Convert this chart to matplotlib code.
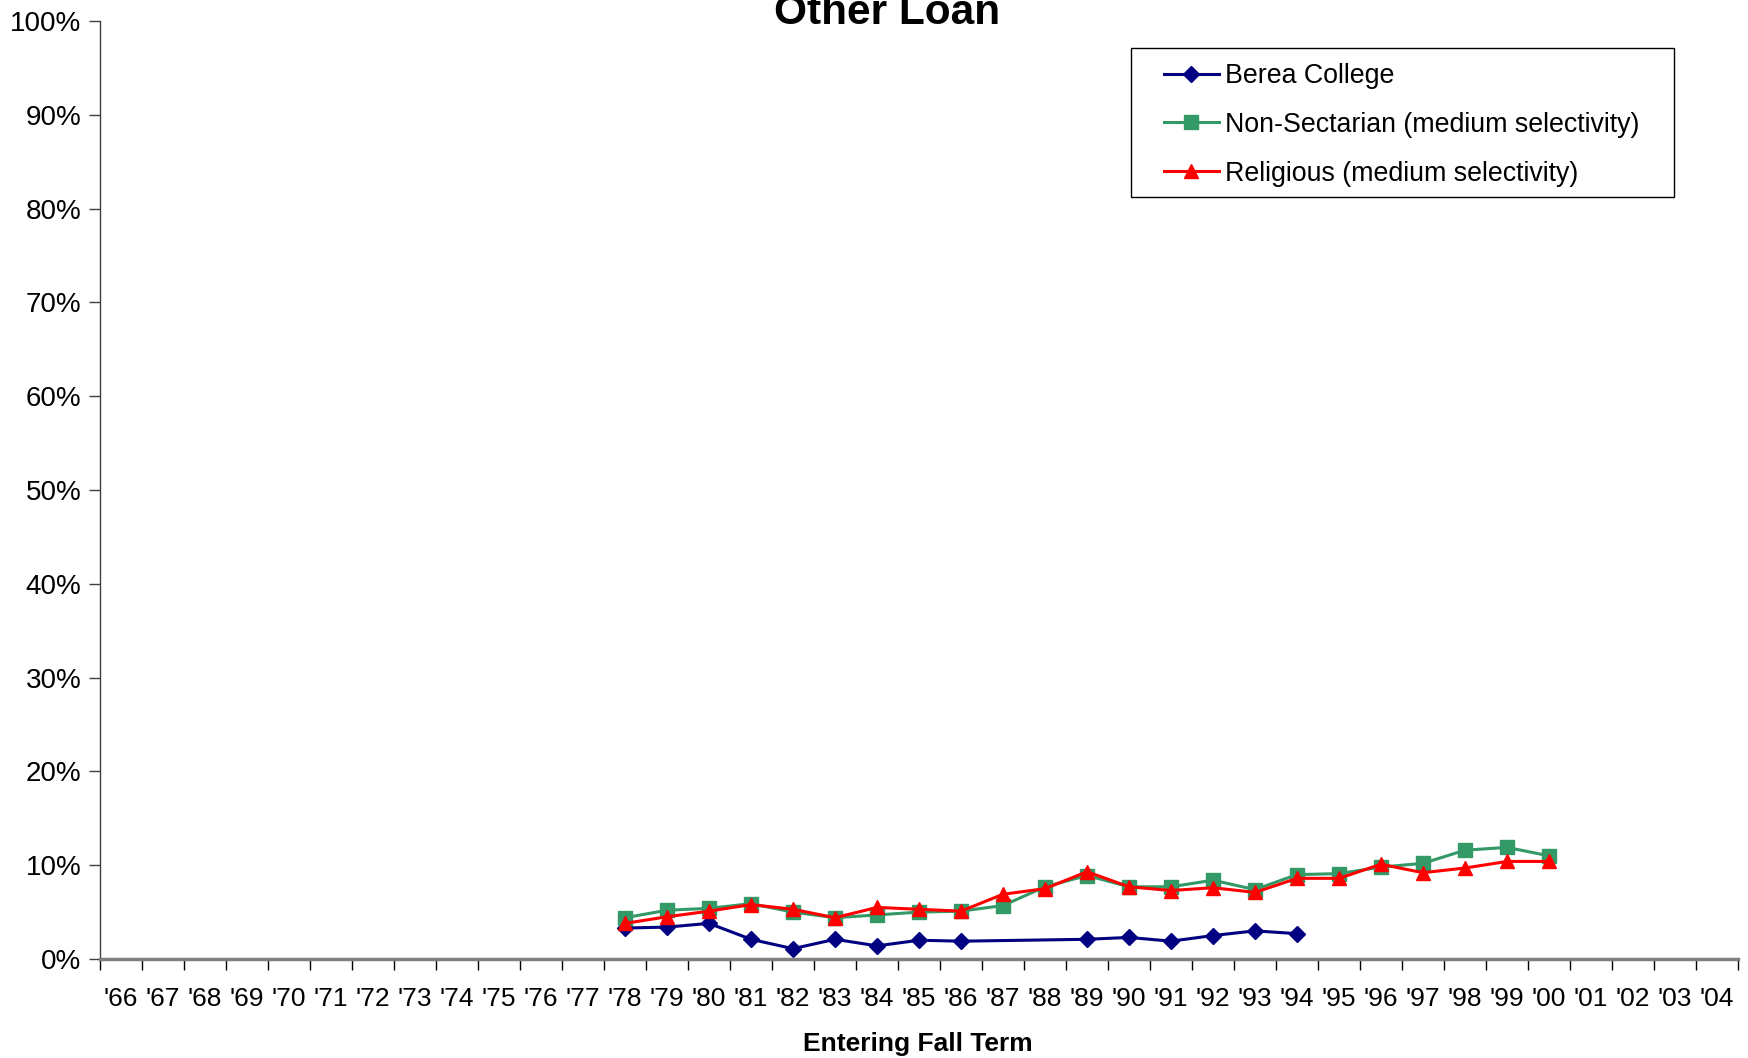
import numpy as np
import matplotlib
matplotlib.use('Agg')
from matplotlib import pyplot as plt
from matplotlib.patches import Rectangle
from matplotlib.ticker import PercentFormatter, FixedLocator

plt.rcParams['font.family'] = ['Liberation Sans', 'DejaVu Sans']

#entering fall term, '66 .. '04
years = ["'%02d" % (y % 100) for y in range(1966, 2005)]

nan = np.nan
#percent of students with other loan, starting '78
berea = [3.3, 3.4, 3.8, 2.1, 1.1, 2.1, 1.4, 2.0, 1.9, nan, nan, 2.1, 2.3, 1.9, 2.5, 3.0, 2.7]
non_sectarian = [4.4, 5.2, 5.4, 5.9, 5.0, 4.4, 4.7, 5.0, 5.1, 5.7, 7.7, 8.9, 7.7, 7.7, 8.4, 7.4, 9.0, 9.1, 9.8, 10.2, 11.6, 11.9, 11.0]
religious = [3.8, 4.5, 5.1, 5.8, 5.3, 4.4, 5.5, 5.3, 5.1, 6.9, 7.5, 9.3, 7.7, 7.3, 7.6, 7.1, 8.6, 8.6, 10.1, 9.2, 9.7, 10.4, 10.4]
first_year = 1978

series = [
    ('Berea College', berea, '#000080', 'D', 8.5),
    ('Non-Sectarian (medium selectivity)', non_sectarian, '#339966', 's', 9.5),
    ('Religious (medium selectivity)', religious, '#FF0000', '^', 10.5),
]

W, H = 1749, 1058
fig = plt.figure(figsize=(W/100, H/100), dpi=100)
ax = fig.add_axes([100/W, 1-959/H, (1738-100)/W, (959-21)/H])

start = first_year - 1966
for name, vals, color, marker, ms in series:
    vals = np.array(vals, dtype=float)
    x = np.arange(start, start+len(vals))
    ok = ~np.isnan(vals)
    ax.plot(x[ok], vals[ok], color=color, marker=marker, markersize=ms,
            linewidth=2.2, label=name, markeredgecolor=color)

ax.set_xlim(-0.5, len(years)-0.5)
ax.set_ylim(0, 100)

#ticks between categories, labels at centers
ax.xaxis.set_major_locator(FixedLocator(np.arange(-0.5, len(years)+0.5, 1)))
ax.xaxis.set_major_formatter(plt.NullFormatter())
ax.xaxis.set_minor_locator(FixedLocator(np.arange(len(years))))
ax.set_xticklabels(years, minor=True)
ax.tick_params(axis='x', which='major', direction='out', length=8, width=1, color='black')
ax.tick_params(axis='x', which='minor', length=0, pad=20, labelsize=19)

ax.set_yticks(np.arange(0, 101, 10))
ax.yaxis.set_major_formatter(PercentFormatter(xmax=100, decimals=0))
ax.tick_params(axis='y', direction='out', length=8, width=1, color='#404040', pad=5.5, labelsize=20)

for side in ['top', 'right']:
    ax.spines[side].set_visible(False)
ax.spines['left'].set_color('#404040')
ax.spines['left'].set_linewidth(1)
ax.spines['bottom'].set_color('#808080')
ax.spines['bottom'].set_linewidth(2.5)

fig.text(918/W, 1-1044/H, 'Entering Fall Term', fontsize=19, fontweight='bold',
         ha='center', va='center')

fig.text(887/W, 1-24/H, 'Other Loan', fontsize=30.5, fontweight='bold',
         ha='center', va='baseline')

#legend box drawn by hand, entries placed inside it
ax.add_patch(Rectangle((1131/W, 1-197/H), (1674-1131)/W, (197-48)/H,
                       transform=fig.transFigure, facecolor='white',
                       edgecolor='black', linewidth=1, zorder=4, clip_on=False))
leg = ax.legend(loc='upper left', bbox_to_anchor=(1164/W, 1-63/H),
                bbox_transform=fig.transFigure, fontsize=19.3, frameon=False,
                borderaxespad=0, borderpad=0, handlelength=2.05,
                labelspacing=0.85, handletextpad=0.22)
leg.set_zorder(6)

fig.savefig('out.png', dpi=100)
